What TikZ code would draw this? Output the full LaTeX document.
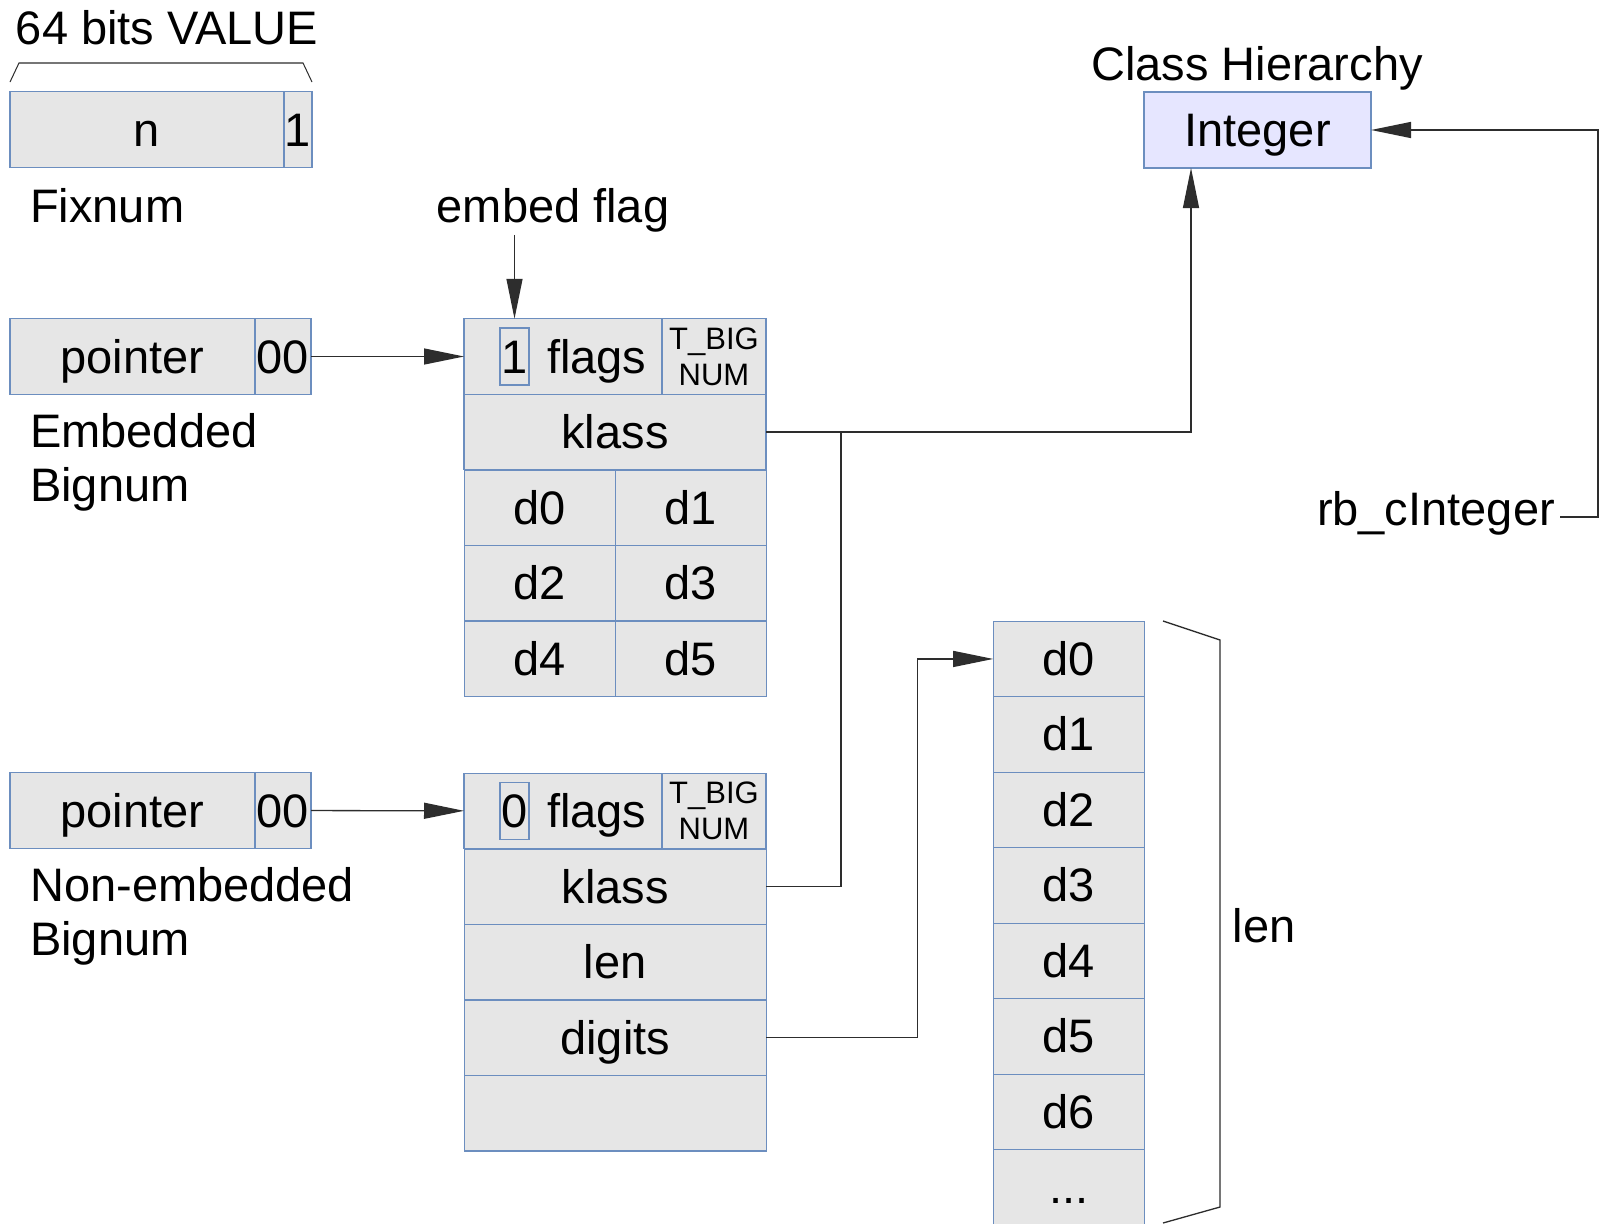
\documentclass[tikz,border=0pt]{standalone}
\usepackage{fontspec}
\setmainfont{Liberation Sans}
\usepackage{tikz}
\usetikzlibrary{matrix,arrows.meta,positioning}

\definecolor{cellfill}{RGB}{230,230,230}
\definecolor{cellline}{RGB}{108,142,191}
\definecolor{classfill}{RGB}{230,230,255}
\definecolor{wirecol}{RGB}{45,45,45}
\newcommand{\bigtxt}{\fontsize{47}{54}\selectfont}
\newcommand{\smalltxt}{\fontsize{31}{36}\selectfont}

\tikzset{
	txt/.style={font=\bigtxt,inner sep=0pt,outer sep=0pt,text height=33pt,text depth=0pt},
	cellbase/.style={draw=cellline,fill=cellfill,line width=1.3pt,inner sep=0pt,outer sep=0pt,minimum height=75.5pt},
	cell/.style={cellbase,txt},
	typecell/.style={cellbase,font=\smalltxt,align=center,minimum width=104pt},
	bitbox/.style={txt,draw=cellline,line width=1.3pt,minimum width=29pt,minimum height=57pt},
	classbox/.style={cell,fill=classfill,minimum width=227pt,minimum height=76pt},
	lbl/.style={font=\bigtxt,inner sep=0pt},
	wire/.style={draw=wirecol,line width=1.3pt},
	ptr/.style={wire,-{Triangle[length=40pt,width=16pt]}},
}

\begin{document}
\begin{tikzpicture}[x=1pt,y=-1pt]
	\path[fill=white,use as bounding box] (0,0) rectangle (1602,1223);
	\clip (0,0) rectangle (1602,1223);

	\node[cell,minimum width=274pt] (fixn) at (147,129.5) {n};
	\node[cell,minimum width=28pt] (fixtag) at (298,129.5) {1};
	\draw[wire,line width=1pt] (10,82) -- (19,63) -- (303,63) -- (312,82);
	\node[lbl,anchor=base] (bits) at (167,45) {64 bits VALUE};
	\node[lbl,anchor=base west] (fixlbl) at (30,222) {Fixnum};

	\node[cell,minimum width=245pt] (eptr) at (132.5,356.5) {pointer};
	\node[cell,minimum width=56pt] (etag) at (283,356.5) {00};
	\node[lbl,anchor=north west,align=left] (elbl) at (30,413) {Embedded\\Bignum};

	\node[cell,minimum width=198pt] (eflags) at (563,356.5) {};
	\node[bitbox] (ebit) at (514.5,356.5) {1};
	\node[txt,right=18pt of ebit] (eflagtxt) {flags};
	\node[typecell] (etype) at (714,356.5) {T\_BIG\\NUM};
	\node[cell,minimum width=302pt] (eklass) at (615,432) {klass};
	\matrix (edig) [matrix of nodes,nodes={cell,minimum width=151pt},row sep=-1.3pt,column sep=-1.3pt,inner sep=-0.65pt,anchor=north west] at (eklass.south west) {
		d0 & d1 \\
		d2 & d3 \\
		d4 & d5 \\
	};
	\node[lbl,anchor=base] (flaglbl) at (553,222) {embed flag};

	\node[cell,minimum width=245pt] (nptr) at (132.5,810.5) {pointer};
	\node[cell,minimum width=56pt] (ntag) at (283,810.5) {00};
	\node[lbl,anchor=north west,align=left] (nlbl) at (30,867) {Non-embedded\\Bignum};

	\node[cell,minimum width=198pt] (nflags) at (563,811) {};
	\node[bitbox] (nbit) at (514.5,811) {0};
	\node[txt,right=18pt of nbit] (nflagtxt) {flags};
	\node[typecell] (ntype) at (714,811) {T\_BIG\\NUM};
	\matrix (nbody) [matrix of nodes,nodes in empty cells,nodes={cell,minimum width=302pt},row sep=-1.3pt,inner sep=-0.65pt,anchor=north west] at (nflags.south west) {
		klass \\
		len \\
		digits \\
		\\
	};

	\matrix (dig) [matrix of nodes,nodes={cell,minimum width=151pt},row sep=-1.3pt,inner sep=-0.65pt,anchor=north west] at (993,621) {
		d0 \\ d1 \\ d2 \\ d3 \\ d4 \\ d5 \\ d6 \\ ... \\
	};
	\draw[wire] (1163,621) -- (1220,640) -- (1220,1207) -- (1163,1223);
	\node[lbl,anchor=base] (lenlbl) at (1264,942) {len};

	\node[lbl,anchor=base] (hier) at (1257,80) {Class Hierarchy};
	\node[classbox] (integer) at (1257.5,130) {Integer};
	\node[lbl,anchor=base east] (rbci) at (1555,525) {rb\_cInteger};

	\draw[ptr] (etag) -- (eflags);
	\draw[ptr] (ntag) -- (nflags);
	\draw[ptr,shorten <=3pt] (flaglbl.south -| ebit) -- (eflags.north -| ebit);
	\coordinate (kjoin) at ([xshift=75pt]eklass.east);
	\draw[ptr] (eklass.east) -| ([xshift=-66.5pt]integer.south);
	\draw[wire] (nbody-1-1.east) -| (kjoin);
	\draw[ptr] (nbody-3-1.east) -- ++(151,0) |- (dig-1-1.west);
	\draw[ptr,shorten <=5pt] ([yshift=-4pt]rbci.east) -- ++(43,0) |- (integer.east);
\end{tikzpicture}
\end{document}
